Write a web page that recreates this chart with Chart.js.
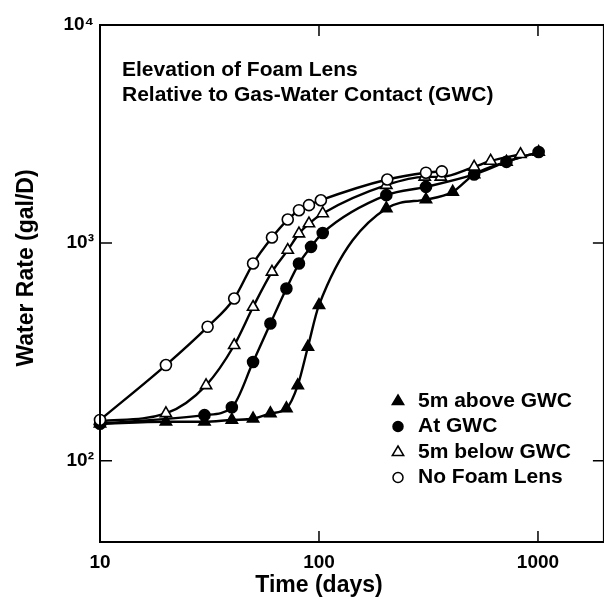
<!DOCTYPE html>
<html>
<head>
<meta charset="utf-8">
<script src="https://cdn.jsdelivr.net/npm/chart.js"></script>
<style>
  html, body { margin: 0; padding: 0; background: #fff; overflow: hidden; }
  #wrap { width: 612px; height: 616px; }
</style>
</head>
<body>
<div id="wrap"><canvas id="chart"></canvas></div>
<script>
// tick values and labels
const xTicks = [10, 100, 1000];
const yTicks = [100, 1000, 10000];
const yTickLabels = ["10²", "10³", "10⁴"];

// series (days, gal/D)
const aboveDays = [10, 20, 30, 40, 50, 60, 71, 80, 89, 100, 203, 308, 408, 511, 718, 1007];
const aboveRate = [148, 151, 151, 154, 156, 165, 174, 222, 333, 518, 1439, 1581, 1714, 2061, 2355, 2612];

const atDays = [10, 30, 40, 50, 60, 71, 81, 92, 104, 203, 308, 511, 718, 1007];
const atRate = [148, 162, 176, 284, 427, 618, 804, 959, 1111, 1656, 1807, 2061, 2355, 2612];

const belowDays = [10, 20, 30.5, 41, 50, 61, 72, 81, 90, 104, 203, 304, 360, 511, 608, 832];
const belowRate = [152, 165, 222, 339, 508, 736, 927, 1103, 1227, 1365, 1841, 2009, 2009, 2234, 2377, 2552];

const noLensDays = [10, 20, 31, 41, 50, 61, 72, 81, 90, 102, 205, 308, 364];
const noLensRate = [154, 275, 412, 556, 804, 1059, 1280, 1413, 1490, 1570, 1954, 2100, 2130];

const seriesNames = ["5m above GWC", "At GWC", "5m below GWC", "No Foam Lens"];

function pts(xs, ys) {
  return xs.map((x, i) => ({ x: x, y: ys[i] }));
}

function makeSet(label, xs, ys, style, filled, order) {
  return {
    label: label,
    data: pts(xs, ys),
    showLine: true,
    borderColor: "#000",
    borderWidth: 2.4,
    cubicInterpolationMode: "monotone",
    pointStyle: style,
    pointRadius: style === "triangle" ? 6.5 : 5.5,
    pointBackgroundColor: filled ? "#000" : "#fff",
    pointBorderColor: "#000",
    pointBorderWidth: 1.6,
    clip: false,
    order: order,
  };
}

const FONT = "Liberation Sans";

function marker(ctx, style, filled, x, y, r) {
  ctx.beginPath();
  if (style === "triangle") {
    ctx.moveTo(x, y - r);
    ctx.lineTo(x + r * 0.95, y + r * 0.6);
    ctx.lineTo(x - r * 0.95, y + r * 0.6);
    ctx.closePath();
  } else {
    ctx.arc(x, y, r, 0, Math.PI * 2);
  }
  ctx.fillStyle = filled ? "#000" : "#fff";
  ctx.fill();
  ctx.lineWidth = 1.5;
  ctx.strokeStyle = "#000";
  ctx.stroke();
}

const framePlugin = {
  id: "frame",
  afterDraw(chart) {
    const ctx = chart.ctx;
    const a = chart.chartArea;
    const xs = chart.scales.x;
    const ys = chart.scales.y;
    ctx.save();
    ctx.strokeStyle = "#000";
    ctx.lineWidth = 2;
    ctx.strokeRect(a.left, a.top, a.right - a.left, a.bottom - a.top);

    // inward tick marks
    ctx.lineWidth = 1.5;
    ctx.beginPath();
    xTicks.slice(1).forEach((v) => {
      const px = xs.getPixelForValue(v);
      ctx.moveTo(px, a.bottom);
      ctx.lineTo(px, a.bottom - 11);
      ctx.moveTo(px, a.top);
      ctx.lineTo(px, a.top + 11);
    });
    yTicks.slice(0, 2).forEach((v) => {
      const py = ys.getPixelForValue(v);
      ctx.moveTo(a.left, py);
      ctx.lineTo(a.left + 12, py);
      ctx.moveTo(a.right, py);
      ctx.lineTo(a.right - 11, py);
    });
    ctx.stroke();

    // note inside plot
    ctx.fillStyle = "#000";
    ctx.font = "bold 21px '" + FONT + "'";
    ctx.textBaseline = "middle";
    ctx.textAlign = "left";
    ctx.fillText("Elevation of Foam Lens", 122, 70);
    ctx.fillText("Relative to Gas-Water Contact (GWC)", 122, 95);

    // legend
    const sets = chart.data.datasets;
    sets.forEach((ds, i) => {
      const y = 401 + i * 25.5;
      marker(ctx, ds.pointStyle, ds.pointBackgroundColor === "#000", 398, y, ds.pointStyle === "triangle" ? 6 : 5);
      ctx.fillStyle = "#000";
      ctx.fillText(ds.label, 418, y);
    });

    // axis titles
    ctx.font = "bold 23px '" + FONT + "'";
    ctx.textAlign = "center";
    ctx.fillText("Time (days)", 319, 586);
    ctx.translate(27, 268);
    ctx.rotate(-Math.PI / 2);
    ctx.fillText("Water Rate (gal/D)", 0, 0);
    ctx.restore();
  },
};

new Chart(document.getElementById("chart"), {
  type: "scatter",
  data: {
    datasets: [
      makeSet(seriesNames[0], aboveDays, aboveRate, "triangle", true, 4),
      makeSet(seriesNames[1], atDays, atRate, "circle", true, 3),
      makeSet(seriesNames[2], belowDays, belowRate, "triangle", false, 2),
      makeSet(seriesNames[3], noLensDays, noLensRate, "circle", false, 1),
    ],
  },
  options: {
    responsive: true,
    maintainAspectRatio: false,
    animation: false,
    layout: { padding: { top: 25, right: 5, left: 0, bottom: 0 } },
    plugins: {
      legend: { display: false },
      tooltip: { enabled: false },
    },
    scales: {
      x: {
        type: "logarithmic",
        min: 10,
        max: 2000,
        grid: { display: false, drawTicks: false },
        border: { display: false },
        afterBuildTicks: (scale) => {
          scale.ticks = xTicks.map((v) => ({ value: v }));
        },
        afterFit: (scale) => {
          scale.height = 74;
        },
        ticks: {
          color: "#000",
          padding: 9,
          maxRotation: 0,
          font: { family: FONT, size: 19, weight: "bold" },
          callback: (v) => String(v),
        },
      },
      y: {
        type: "logarithmic",
        min: 42.4,
        max: 10000,
        grid: { display: false, drawTicks: false },
        border: { display: false },
        afterBuildTicks: (scale) => {
          scale.ticks = yTicks.map((v) => ({ value: v }));
        },
        afterFit: (scale) => {
          scale.width = 100;
        },
        ticks: {
          color: "#000",
          padding: 6,
          font: { family: FONT, size: 19, weight: "bold" },
          callback: (v) => yTickLabels[yTicks.indexOf(v)],
        },
      },
    },
  },
  plugins: [framePlugin],
});
</script>
</body>
</html>
